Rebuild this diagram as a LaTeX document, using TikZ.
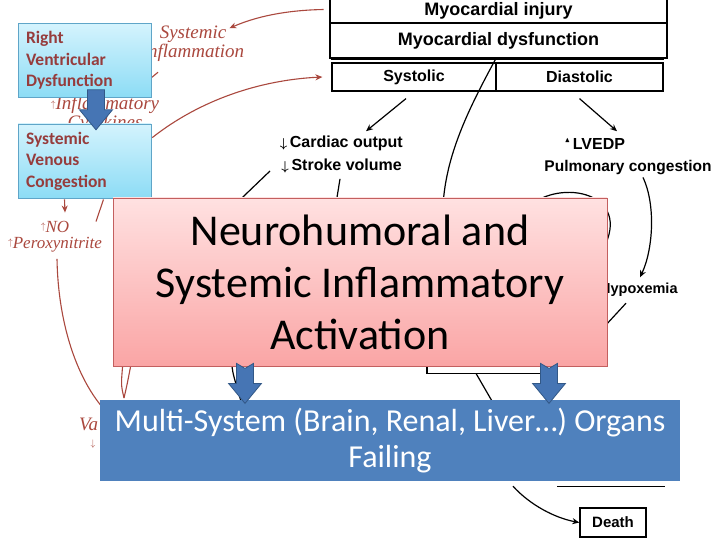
\documentclass[tikz,border=0pt]{standalone}
\usepackage{amsmath,amssymb}
\usepackage{fontspec}
\setmainfont{Carlito}
\newfontfamily\figsans{Liberation Sans}
\newfontfamily\figserif{Liberation Serif}
\usetikzlibrary{arrows.meta}
\pgfdeclarelayer{background}
\pgfsetlayers{background,main}

\definecolor{figred}{RGB}{170,72,62}
\definecolor{cyantop}{RGB}{212,243,253}
\definecolor{cyanbot}{RGB}{140,220,245}
\definecolor{cyanedge}{RGB}{95,165,200}
\definecolor{boxtext}{RGB}{150,60,60}
\definecolor{pinktop}{RGB}{255,225,225}
\definecolor{pinkbot}{RGB}{250,165,165}
\definecolor{pinkedge}{RGB}{195,95,95}
\definecolor{figblue}{RGB}{79,129,189}
\definecolor{arrowblue}{RGB}{70,117,180}
\definecolor{arrowedge}{RGB}{50,88,135}

\newcommand{\dnarr}{\raisebox{0.1ex}{\scalebox{0.75}{$\boldsymbol{\downarrow}$}}\,}
\newcommand{\uparr}{\raisebox{0.3ex}{\scalebox{0.55}{$\uparrow$}}}
\newcommand{\lvtri}{\raisebox{0.9ex}{\scalebox{0.45}{$\blacktriangle$}}}

\begin{document}
\begin{tikzpicture}[x=1pt,y=-1pt,>={Stealth[length=7pt,width=6pt]},
    blk/.style={line width=1.2pt},
    redl/.style={figred,line width=1.1pt},
    bk/.style={inner sep=2pt,font=\figsans\bfseries\fontsize{16}{23}\selectfont},
    topbox/.style={draw,line width=2.6pt,minimum width=337pt,minimum height=25pt,
      font=\figsans\bfseries\fontsize{18}{20}\selectfont},
    cell/.style={draw,line width=1.2pt,minimum height=28pt,
      font=\figsans\bfseries\fontsize{16}{18}\selectfont},
    rtxt/.style={text=figred,inner sep=2pt,align=center,
      font=\figserif\itshape\fontsize{19}{19}\selectfont},
    cyanbox/.style={draw=cyanedge,line width=0.6pt,top color=cyantop,bottom color=cyanbot,
      minimum height=73pt,text width=117pt,inner sep=8pt,align=left,text=boxtext,
      font=\bfseries\fontsize{17.5}{21.5}\selectfont},
    pinkbox/.style={draw=pinkedge,line width=0.8pt,top color=pinktop,bottom color=pinkbot,
      minimum width=494pt,minimum height=168pt,align=center,
      font=\fontsize{44}{52}\selectfont},
    bluebox/.style={fill=figblue,text=white,minimum width=580pt,minimum height=81pt,
      align=center,font=\fontsize{32}{36}\selectfont},
    pics/bigdown/.style={code={
      \filldraw[fill=arrowblue,draw=arrowedge,line width=0.8pt]
        (-8.5,0) -- (0,#1) -- (8.5,0) -- (8.5,20) -- (16.5,20) -- (0,40)
        -- (-16.5,20) -- (-8.5,20) -- cycle;}},
    pics/bigdown/.default=0]

  \useasboundingbox (0,0) rectangle (720,540);

  % boxes laid over the figure
  \node[cyanbox] (rvd) at (84.5,60.5) {Right\\Ventricular\\Dysfunction};
  \node[cyanbox] (svc) at (84.5,161) {Systemic\\Venous\\Congestion};
  \node[pinkbox] (nha) at (360,282) {Neurohumoral and\\Systemic Inflammatory\\Activation};
  \node[bluebox] (msof) at (390,440.5) {Multi-System (Brain, Renal, Liver…) Organs\\Failing};
  \pic at ([shift={(11.5,-8)}]rvd.south) {bigdown};
  \pic at ([shift={(-115,-3)}]nha.south) {bigdown=5};
  \pic at ([shift={(189,-3)}]nha.south) {bigdown=5};

  \begin{pgfonlayer}{background}
    \fill[white] (0,0) rectangle (720,540);
    % scanned figure behind
    \node[topbox] (inj) at (498.5,10.5) {Myocardial injury};
    \node[topbox,minimum height=35pt] (dysf) at (498.5,40.5) {Myocardial dysfunction};
    \node[cell,minimum width=164pt] (sys) at (414,77) {Systolic};
    \node[cell,minimum width=167pt] (dia) at (579.5,77) {Diastolic};
    \draw[line width=0.8pt] ([yshift=3pt]sys.north west) -- ([yshift=3pt]dia.north east);

    \node[bk,anchor=base east] (co) at (405,148) {\dnarr Cardiac output};
    \node[bk,anchor=base east] (sv) at (404,171) {\dnarr Stroke volume};
    \node[bk,anchor=base] (lv) at (595,150) {\lvtri\,LVEDP};
    \node[bk,anchor=base,font=\figsans\bfseries\fontsize{15.5}{18}\selectfont] (pc) at (628,172) {Pulmonary congestion};
    \node[bk,anchor=base west,font=\figsans\bfseries\fontsize{14.5}{18}\selectfont] (hyp) at (598,293) {Hypoxemia};
    \node[draw,line width=1.3pt,minimum width=66pt,minimum height=29pt,
      font=\figsans\bfseries\fontsize{15}{18}\selectfont] (death) at (613,522.5) {Death};
    \coordinate (coleft) at (270,171);
    \coordinate (vfork) at (124,398);

    \draw[blk,->] ([shift={(-8,7)}]sys.south) -- ([shift={(-39,-3)}]co.north east);
    \draw[blk,->] ([shift={(0,7)}]dia.south) -- ([shift={(22,-5)}]lv.north);
    \draw[blk] ([xshift=-3]dysf.south) .. controls (468,110) and (446,155) .. ([shift={(83,8)}]nha.north);
    \draw[blk] (coleft) -- ([shift={(-124,6)}]nha.north);
    \draw[blk] ([shift={(-64,4)}]sv.south east) -- ([shift={(-24,6)}]nha.north);
    \draw[blk,->] ([xshift=15]pc.south) .. controls (656,205) and (653,250) .. ([shift={(42,-3)}]hyp.north west);
    \draw[blk] ([shift={(-82,12)}]nha.north east) .. controls (555,178) and (630,190) .. ([shift={(-2,47)}]nha.north east);
    \draw[blk] ([shift={(28,5)}]hyp.south west) -- ([shift={(-8,50)}]nha.east);
    \draw[blk] ([xshift=67]nha.south) |- ([shift={(187,7)}]nha.south);
    \draw[blk] ([shift={(116,7)}]nha.south) -- ([shift={(103,3)}]msof.north);
    \draw[blk] ([xshift=-128]nha.south) .. controls (233,374) .. ([shift={(-148,5)}]msof.north);
    \draw[blk,->] ([shift={(123,5)}]msof.south) .. controls (530,505) and (555,518) .. (death.west);
    \draw[blk] ([shift={(167,5)}]msof.south) -- ([shift={(275,5)}]msof.south);

    \node[rtxt,anchor=base] (sinf) at (193,58) {Systemic\\Inflammation};
    \node[rtxt,anchor=base] (icyt) at (105,129) {\uparr Inflammatory\\Cytokines};
    \node[rtxt,anchor=base,font=\figserif\itshape\fontsize{17}{16}\selectfont] (nox) at (55,248) {\uparr NO\\\uparr Peroxynitrite};
    \node[rtxt,anchor=base west] (va) at (77,430) {Va};
    \node[rtxt,anchor=base] (vadn) at (93,446) {\scalebox{0.55}{$\downarrow$}};

    \draw[redl,->] ([shift={(-5,-1)}]inj.west) .. controls (295,10) and (262,14) .. ([shift={(-17,4)}]sinf.north east);
    \draw[redl] ([shift={(-41,13)}]sinf.south) -- ([shift={(-35,8)}]sinf.south);
    \draw[redl,->] ([shift={(1,14)}]svc.north east) .. controls (200,100) and (260,80) .. ([xshift=-9]sys.west);
    \draw[redl,->] ([shift={(-20,1)}]svc.south) -- ([shift={(10,-6)}]nox.north);
    \draw[redl] ([shift={(19,1)}]svc.south) -- ([shift={(41,3)}]nox.north);
    \draw[redl] ([shift={(2,5)}]nox.south) .. controls (58,320) and (75,375) .. ([shift={(3,8)}]msof.north west);
    \draw[redl] ([xshift=10]nha.south west) .. controls (121,385) .. (vfork);
    \draw[redl] ([xshift=18]nha.south west) .. controls (127,385) .. (vfork);
  \end{pgfonlayer}
\end{tikzpicture}
\end{document}
